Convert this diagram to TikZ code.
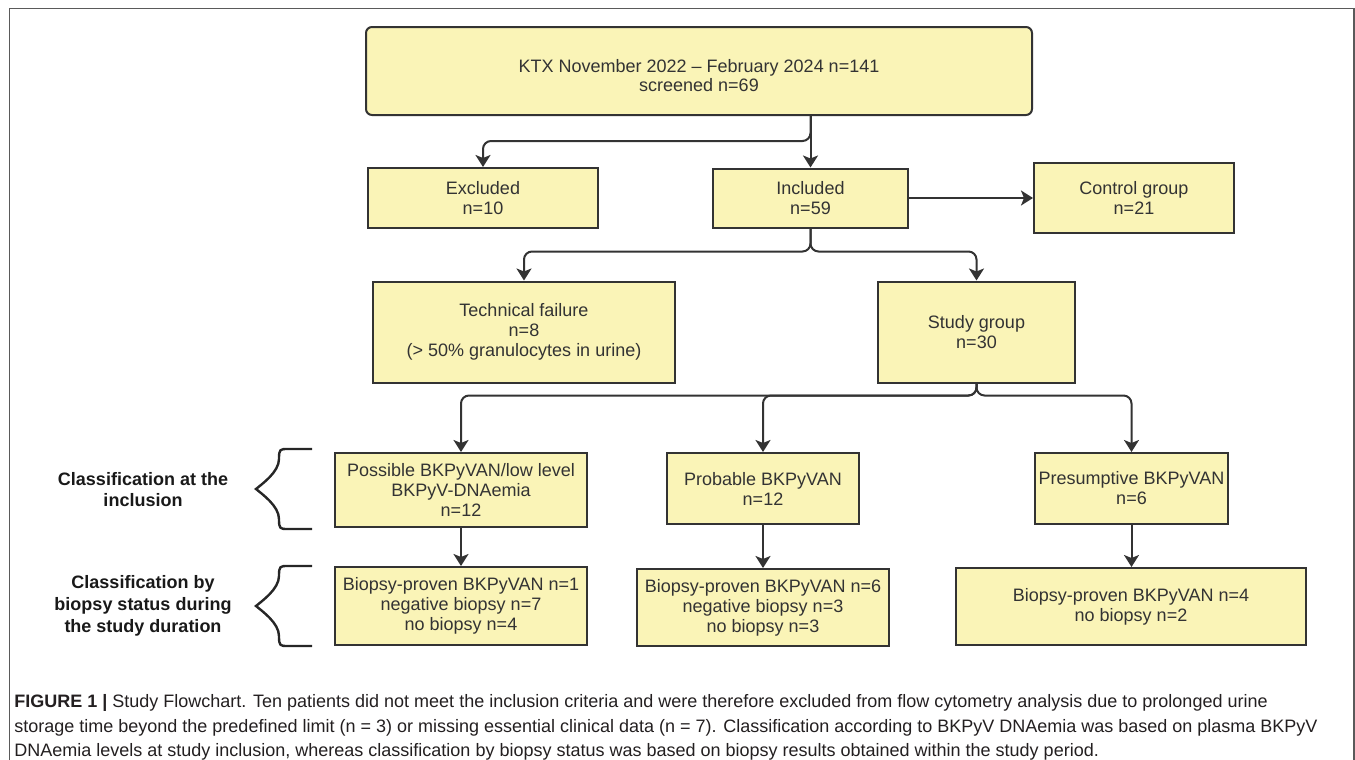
\documentclass[tikz,border=0pt]{standalone}
\usepackage{fontspec}
\setmainfont{Liberation Sans}
\usetikzlibrary{arrows.meta}
\definecolor{boxfill}{RGB}{250,244,183}
\definecolor{boxline}{RGB}{51,51,51}
\definecolor{framegray}{RGB}{90,90,90}
\definecolor{captext}{RGB}{35,31,32}

\begin{document}
\begin{tikzpicture}[x=0.5pt,y=-0.5pt,
    flowbox/.style={draw=boxline,fill=boxfill,line width=1pt,inner sep=0pt,align=center,
      text=boxline,font=\fontsize{9}{10}\selectfont},
    conn/.style={draw=boxline,line width=1pt,rounded corners=4pt,
      -{Stealth[length=6pt,width=7.5pt,inset=1.5pt]}},
    sidelabel/.style={align=center,text=black!90,font=\bfseries\fontsize{9}{10.5}\selectfont}]
  \useasboundingbox (0,0) rectangle (1355,760);
  \draw[framegray,line width=0.8pt] (9.5,760) -- (9.5,8.5) -- (1354,8.5) -- (1354,760);

  \node[flowbox,rounded corners=3pt,minimum width=333pt,minimum height=44pt,
    font=\fontsize{9}{8}\selectfont,text height=20.5pt] (ktx) at (699,71)
    {KTX November 2022 – February 2024 n=141\\screened n=69};
  \node[flowbox,minimum width=115pt,minimum height=30pt] (excl) at (483,198) {Excluded\\n=10};
  \node[flowbox,minimum width=97.5pt,minimum height=29.5pt] (incl) at (810.5,198) {Included\\n=59};
  \node[flowbox,minimum width=100pt,minimum height=35pt] (ctrl) at (1134,198) {Control group\\n=21};
  \node[flowbox,minimum width=151pt,minimum height=50.5pt] (tech) at (524,332)
    {Technical failure\\n=8\\(> 50\% granulocytes in urine)};
  \node[flowbox,minimum width=98.5pt,minimum height=50.5pt] (study) at (976.5,332) {Study group\\n=30};
  \node[flowbox,minimum width=126pt,minimum height=37pt] (poss) at (461,490)
    {Possible BKPyVAN/low level\\BKPyV-DNAemia\\n=12};
  \node[flowbox,minimum width=96pt,minimum height=35.5pt] (prob) at (763,488.5) {Probable BKPyVAN\\n=12};
  \node[flowbox,minimum width=96.5pt,minimum height=35.5pt] (pres) at (1131.5,488.5) {Presumptive BKPyVAN\\n=6};
  \node[flowbox,minimum width=126pt,minimum height=39pt] (bio1) at (461,606)
    {Biopsy-proven BKPyVAN n=1\\negative biopsy n=7\\no biopsy n=4};
  \node[flowbox,minimum width=126pt,minimum height=38.5pt] (bio2) at (763,607.5)
    {Biopsy-proven BKPyVAN n=6\\negative biopsy n=3\\no biopsy n=3};
  \node[flowbox,minimum width=175pt,minimum height=38.5pt] (bio3) at (1131,606.5)
    {Biopsy-proven BKPyVAN n=4\\no biopsy n=2};

  \draw[conn] (ktx.south -| incl.north) -- (incl.north);
  \draw[conn] (ktx.south -| incl.north) -- ++(0,25) -| (excl.north);
  \draw[conn] (incl.east) -- (ctrl.west);
  \draw[conn] (incl.south) -- ++(0,23) -| (tech.north);
  \draw[conn] (incl.south) -- ++(0,23) -| (study.north);
  \draw[conn] (study.south) -- ++(0,12) -| (poss.north);
  \draw[conn] (study.south) -- ++(0,12) -| (prob.north);
  \draw[conn] (study.south) -- ++(0,12) -| (pres.north);
  \draw[conn] (poss.south) -- (bio1.north);
  \draw[conn] (prob.south) -- (bio2.north);
  \draw[conn] (pres.south) -- (pres.south |- bio3.north);

  \node[sidelabel] (incllbl) at (143,490) {Classification at the\\inclusion};
  \node[sidelabel,font=\bfseries\fontsize{9}{11}\selectfont] (biolbl) at (143,606)
    {Classification by\\biopsy status during\\the study duration};
  \foreach \t in {449,566}
    \draw[black!85,line width=1.2pt] (312,\t) -- ++(-24,0)
      .. controls +(-8,0) and +(0,-10) .. ++(-9,10)
      .. controls +(0,13) and +(6,-5) .. ++(-23,30)
      .. controls +(6,5) and +(0,-13) .. ++(23,30)
      .. controls +(0,10) and +(-8,0) .. ++(9,10) -- ++(24,0);

  \node[anchor=north west,inner sep=0pt,align=left,text=captext,
    font=\fontsize{9}{12.3}\selectfont] (caption) at (14,694)
    {\textbf{FIGURE 1 |} Study Flowchart. Ten patients did not meet the inclusion criteria and were therefore excluded from flow cytometry analysis due to prolonged urine\\
     storage time beyond the predefined limit (n = 3) or missing essential clinical data (n = 7). Classification according to BKPyV DNAemia was based on plasma BKPyV\\
     DNAemia levels at study inclusion, whereas classification by biopsy status was based on biopsy results obtained within the study period.};
\end{tikzpicture}
\end{document}
